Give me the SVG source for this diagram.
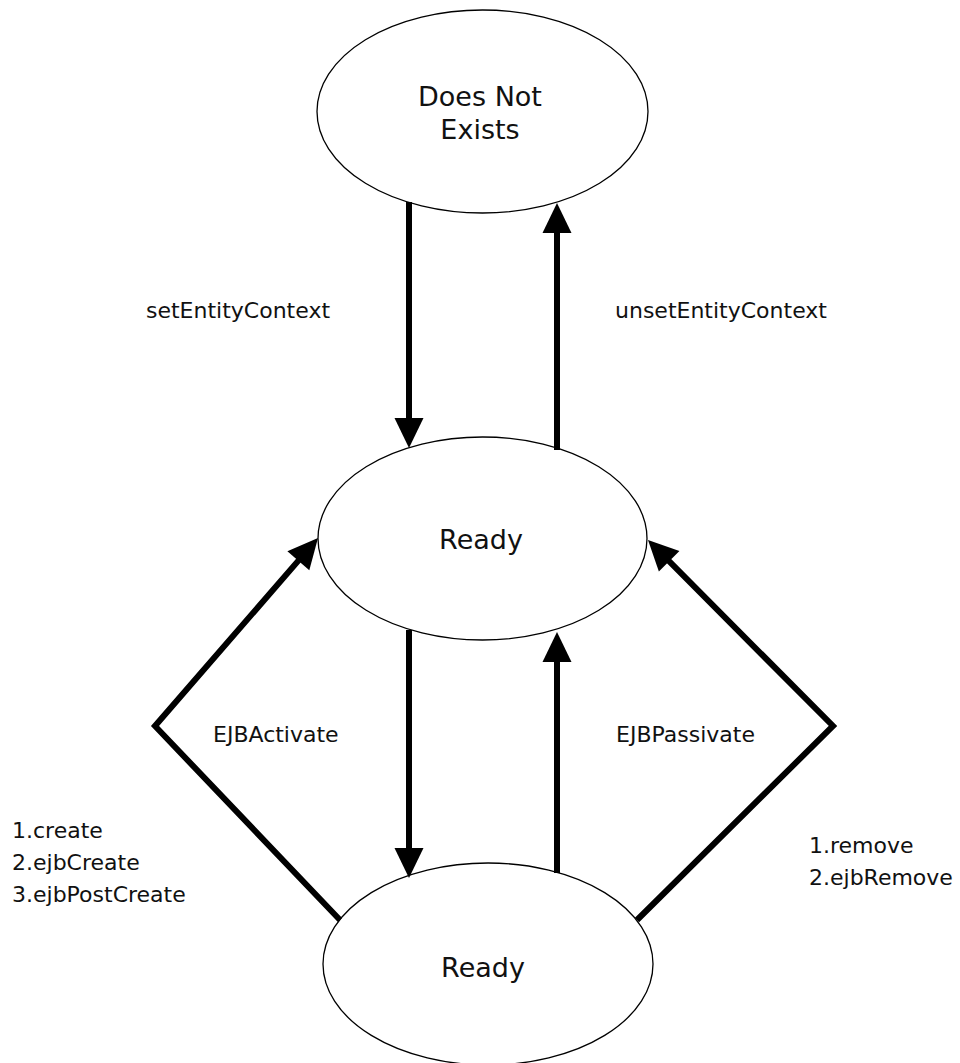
<svg xmlns="http://www.w3.org/2000/svg" width="960" height="1063" viewBox="0 0 960 1063">
<style>
.node{fill:#fff;stroke:#000;stroke-width:1.3}
.nlabel{font-family:"DejaVu Sans",Verdana,sans-serif;font-size:27px;fill:#111;text-anchor:middle}
.elabel{font-family:"DejaVu Sans",Verdana,sans-serif;font-size:22px;fill:#111}
.edge{fill:none;stroke:#000;stroke-width:6;stroke-linejoin:miter;marker-end:url(#arrow)}
</style>
<defs>
<marker id="arrow" markerUnits="userSpaceOnUse" markerWidth="31" markerHeight="30" refX="10" refY="14.5" orient="auto" overflow="visible">
<path d="M0,0 L30,14.5 L0,29 Z" fill="#000"/>
</marker>
</defs>
<rect width="960" height="1063" fill="#fff"/>
<g id="node-does-not-exist">
<ellipse class="node" cx="482.5" cy="111.5" rx="165.5" ry="101.5"/>
<text class="nlabel" x="480" y="106">Does Not</text>
<text class="nlabel" x="480" y="139">Exists</text>
</g>
<g id="node-ready-1">
<ellipse class="node" cx="482.5" cy="538.5" rx="164.5" ry="101.5"/>
<text class="nlabel" x="481" y="549">Ready</text>
</g>
<g id="node-ready-2">
<ellipse class="node" cx="488" cy="964" rx="165" ry="101"/>
<text class="nlabel" x="483" y="977">Ready</text>
</g>
<g id="connectors">
<path class="edge" d="M409,202 V428"/>
<path class="edge" d="M557,450 V223"/>
<path class="edge" d="M409,630 V858"/>
<path class="edge" d="M557,873 V652"/>
<path class="edge" d="M340,920 L155,726 L304.9,553.1"/>
<path class="edge" d="M637,920 L833,726 L662.1,554.2"/>
<text class="elabel" x="146" y="318">setEntityContext</text>
<text class="elabel" x="615" y="318">unsetEntityContext</text>
<text class="elabel" x="213" y="742">EJBActivate</text>
<text class="elabel" x="616" y="742">EJBPassivate</text>
<text class="elabel" x="12" y="838">1.create</text>
<text class="elabel" x="12" y="870">2.ejbCreate</text>
<text class="elabel" x="12" y="902">3.ejbPostCreate</text>
<text class="elabel" x="809" y="853">1.remove</text>
<text class="elabel" x="809" y="885">2.ejbRemove</text>
</g>
</svg>
